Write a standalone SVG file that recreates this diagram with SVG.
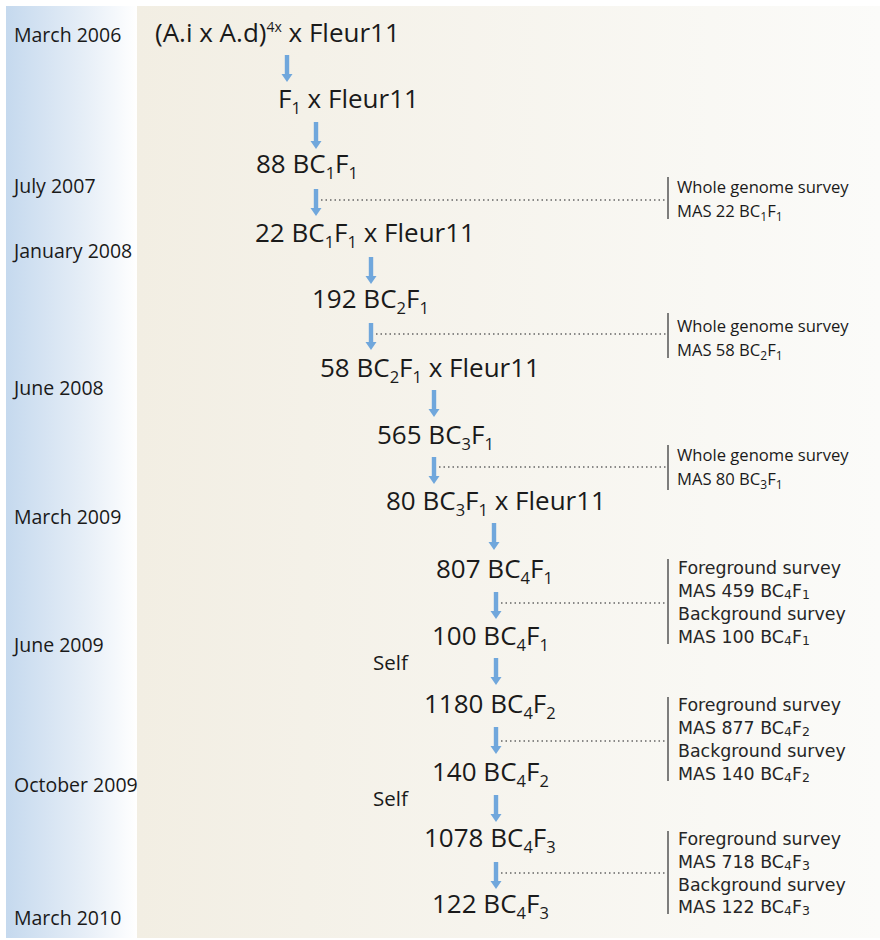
<svg xmlns="http://www.w3.org/2000/svg" xmlns:xlink="http://www.w3.org/1999/xlink" width="880" height="940" viewBox="0 0 880 940">
<defs>
<linearGradient id="gLeft" x1="0" y1="0" x2="1" y2="0">
<stop offset="0" stop-color="#c5d9ee"/>
<stop offset="0.6" stop-color="#e6eef7"/>
<stop offset="1" stop-color="#ffffff"/>
</linearGradient>
<linearGradient id="gMain" x1="0" y1="0" x2="1" y2="0">
<stop offset="0" stop-color="#f2eee3"/>
<stop offset="1" stop-color="#fbfbf9"/>
</linearGradient>
<path id="arr" d="M-2.2,0 H2.2 V19 H5.5 L0,27 L-5.5,19 H-2.2 Z" fill="#70a7dc"/>
<style>
.m{font-family:"Open Sans","Noto Sans",sans-serif;font-size:26px;fill:#1a1a1a}
.d{font-family:"Open Sans","Noto Sans",sans-serif;font-size:19.5px;fill:#1a1a1a}
.s{font-family:"Open Sans","Noto Sans",sans-serif;font-size:20.5px;fill:#1a1a1a}
.w{font-family:"Open Sans","Noto Sans",sans-serif;font-size:16.6px;fill:#1a1a1a}
.v{font-family:"DejaVu Sans",sans-serif;font-size:17.4px;fill:#262626}
.sub{font-size:16.5px}
.sup{font-size:14px}
.ws{font-size:12px}
.vs{font-size:12.5px}
.dot{stroke:#666;stroke-width:1.3;stroke-dasharray:1.5 3;fill:none}
.bar{stroke:#555;stroke-width:1.5;fill:none}
</style>
</defs>
<rect x="0" y="0" width="880" height="940" fill="#ffffff"/>
<rect x="6" y="6" width="131" height="932" fill="url(#gLeft)"/>
<rect x="137" y="6" width="743" height="932" fill="url(#gMain)"/>

<g id="dates">
<text class="d" x="14" y="42">March 2006</text>
<text class="d" x="14" y="193">July 2007</text>
<text class="d" x="14" y="258">January 2008</text>
<text class="d" x="14" y="395">June 2008</text>
<text class="d" x="14" y="524">March 2009</text>
<text class="d" x="14" y="652">June 2009</text>
<text class="d" x="14" y="792">October 2009</text>
<text class="d" x="14" y="925">March 2010</text>
</g>

<g id="connectors">
<use xlink:href="#arr" x="287" y="55"/>
<use xlink:href="#arr" x="316" y="122"/>
<use xlink:href="#arr" x="316" y="189"/>
<use xlink:href="#arr" x="371" y="257"/>
<use xlink:href="#arr" x="371" y="323"/>
<use xlink:href="#arr" x="434" y="390"/>
<use xlink:href="#arr" x="434" y="457"/>
<use xlink:href="#arr" x="494" y="523"/>
<use xlink:href="#arr" x="496" y="592"/>
<use xlink:href="#arr" x="496" y="658"/>
<use xlink:href="#arr" x="496" y="727"/>
<use xlink:href="#arr" x="496" y="795"/>
<use xlink:href="#arr" x="496" y="862"/>
<line class="dot" x1="321" y1="200" x2="667" y2="200"/>
<line class="dot" x1="376" y1="334" x2="667" y2="334"/>
<line class="dot" x1="439" y1="467" x2="667" y2="467"/>
<line class="dot" x1="501" y1="603" x2="667" y2="603"/>
<line class="dot" x1="501" y1="741" x2="667" y2="741"/>
<line class="dot" x1="501" y1="873" x2="667" y2="873"/>
</g>

<g id="n0"><text class="m" x="155" y="42">(A.i x A.d)<tspan class="sup" dy="-10">4x</tspan><tspan dy="10"> x Fleur11</tspan></text></g>
<g id="n1"><text class="m" x="278" y="108">F<tspan class="sub" dy="6">1</tspan><tspan dy="-6"> x Fleur11</tspan></text></g>
<g id="n2"><text class="m" x="256" y="173">88 BC<tspan class="sub" dy="6">1</tspan><tspan dy="-6">F</tspan><tspan class="sub" dy="6">1</tspan></text></g>
<g id="n3"><text class="m" x="255" y="242">22 BC<tspan class="sub" dy="6">1</tspan><tspan dy="-6">F</tspan><tspan class="sub" dy="6">1</tspan><tspan dy="-6"> x Fleur11</tspan></text></g>
<g id="n4"><text class="m" x="312" y="308">192 BC<tspan class="sub" dy="6">2</tspan><tspan dy="-6">F</tspan><tspan class="sub" dy="6">1</tspan></text></g>
<g id="n5"><text class="m" x="320" y="377">58 BC<tspan class="sub" dy="6">2</tspan><tspan dy="-6">F</tspan><tspan class="sub" dy="6">1</tspan><tspan dy="-6"> x Fleur11</tspan></text></g>
<g id="n6"><text class="m" x="377" y="444">565 BC<tspan class="sub" dy="6">3</tspan><tspan dy="-6">F</tspan><tspan class="sub" dy="6">1</tspan></text></g>
<g id="n7"><text class="m" x="386" y="510">80 BC<tspan class="sub" dy="6">3</tspan><tspan dy="-6">F</tspan><tspan class="sub" dy="6">1</tspan><tspan dy="-6"> x Fleur11</tspan></text></g>
<g id="n8"><text class="m" x="436" y="578">807 BC<tspan class="sub" dy="6">4</tspan><tspan dy="-6">F</tspan><tspan class="sub" dy="6">1</tspan></text></g>
<g id="n9"><text class="m" x="432" y="645">100 BC<tspan class="sub" dy="6">4</tspan><tspan dy="-6">F</tspan><tspan class="sub" dy="6">1</tspan></text></g>
<g id="self1"><text class="s" x="373" y="670">Self</text></g>
<g id="n10"><text class="m" x="424" y="713">1180 BC<tspan class="sub" dy="6">4</tspan><tspan dy="-6">F</tspan><tspan class="sub" dy="6">2</tspan></text></g>
<g id="n11"><text class="m" x="432" y="781">140 BC<tspan class="sub" dy="6">4</tspan><tspan dy="-6">F</tspan><tspan class="sub" dy="6">2</tspan></text></g>
<g id="self2"><text class="s" x="373" y="806">Self</text></g>
<g id="n12"><text class="m" x="424" y="847">1078 BC<tspan class="sub" dy="6">4</tspan><tspan dy="-6">F</tspan><tspan class="sub" dy="6">3</tspan></text></g>
<g id="n13"><text class="m" x="432" y="913">122 BC<tspan class="sub" dy="6">4</tspan><tspan dy="-6">F</tspan><tspan class="sub" dy="6">3</tspan></text></g>

<g id="s1">
<line class="bar" x1="668" y1="177" x2="668" y2="219"/>
<text class="w" x="677" y="193">Whole genome survey</text>
<text class="w" x="677" y="217">MAS 22 BC<tspan class="ws" dy="4">1</tspan><tspan dy="-4">F</tspan><tspan class="ws" dy="4">1</tspan></text>
</g>
<g id="s2">
<line class="bar" x1="668" y1="313" x2="668" y2="358"/>
<text class="w" x="677" y="332">Whole genome survey</text>
<text class="w" x="677" y="356">MAS 58 BC<tspan class="ws" dy="4">2</tspan><tspan dy="-4">F</tspan><tspan class="ws" dy="4">1</tspan></text>
</g>
<g id="s3">
<line class="bar" x1="668" y1="445" x2="668" y2="490"/>
<text class="w" x="677" y="461">Whole genome survey</text>
<text class="w" x="677" y="485">MAS 80 BC<tspan class="ws" dy="4">3</tspan><tspan dy="-4">F</tspan><tspan class="ws" dy="4">1</tspan></text>
</g>
<g id="s4">
<line class="bar" x1="668" y1="559" x2="668" y2="644"/>
<text class="v" x="678" y="574">Foreground survey</text>
<text class="v" x="678" y="597">MAS 459 BC<tspan class="vs" dy="2">4</tspan><tspan dy="-2">F</tspan><tspan class="vs" dy="2">1</tspan></text>
<text class="v" x="678" y="620">Background survey</text>
<text class="v" x="678" y="643">MAS 100 BC<tspan class="vs" dy="2">4</tspan><tspan dy="-2">F</tspan><tspan class="vs" dy="2">1</tspan></text>
</g>
<g id="s5">
<line class="bar" x1="668" y1="697" x2="668" y2="781"/>
<text class="v" x="678" y="711">Foreground survey</text>
<text class="v" x="678" y="734">MAS 877 BC<tspan class="vs" dy="2">4</tspan><tspan dy="-2">F</tspan><tspan class="vs" dy="2">2</tspan></text>
<text class="v" x="678" y="757">Background survey</text>
<text class="v" x="678" y="780">MAS 140 BC<tspan class="vs" dy="2">4</tspan><tspan dy="-2">F</tspan><tspan class="vs" dy="2">2</tspan></text>
</g>
<g id="s6">
<line class="bar" x1="668" y1="831" x2="668" y2="914"/>
<text class="v" x="678" y="845">Foreground survey</text>
<text class="v" x="678" y="868">MAS 718 BC<tspan class="vs" dy="2">4</tspan><tspan dy="-2">F</tspan><tspan class="vs" dy="2">3</tspan></text>
<text class="v" x="678" y="891">Background survey</text>
<text class="v" x="678" y="913">MAS 122 BC<tspan class="vs" dy="2">4</tspan><tspan dy="-2">F</tspan><tspan class="vs" dy="2">3</tspan></text>
</g>
</svg>
